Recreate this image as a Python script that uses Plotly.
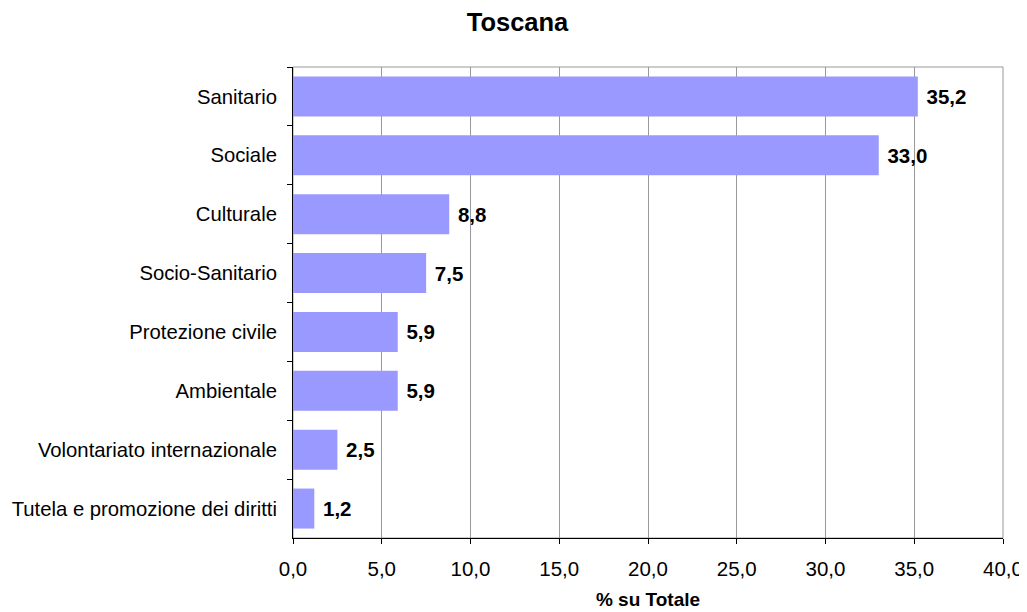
import plotly.graph_objects as go

categorie = [
    "Sanitario", "Sociale", "Culturale", "Socio-Sanitario",
    "Protezione civile", "Ambientale", "Volontariato internazionale",
    "Tutela e promozione dei diritti",
]
valori = [35.2, 33.0, 8.8, 7.5, 5.9, 5.9, 2.5, 1.2]
etichette = ["\u00a0" + f"{v:.1f}".replace(".", ",") for v in valori]
x_ticks = [0, 5, 10, 15, 20, 25, 30, 35, 40]

font = "Liberation Sans, Arial, sans-serif"

fig = go.Figure(go.Bar(
    x=valori,
    y=categorie,
    orientation="h",
    marker=dict(color="#9999FF", line=dict(width=0)),
    text=etichette,
    textposition="outside",
    textfont=dict(family=font, size=20.5, color="black", weight="bold"),
    cliponaxis=False,
))

# la pagina ha un margine di 8px: la figura parte da (8, 8)
fig.update_layout(
    width=1019, height=604,
    margin=dict(l=285, r=24, t=59, b=74),
    paper_bgcolor="white", plot_bgcolor="white",
    separators=",.",
    bargap=0.32,
    showlegend=False,
    title=dict(
        text="<b>Toscana</b>", x=0.5, xanchor="center",
        y=1 - 14 / 604, yanchor="middle",
        font=dict(family=font, size=25.5, color="black"),
    ),
    font=dict(family=font, size=20.5, color="black"),
    shapes=[dict(
        type="rect", xref="paper", yref="paper", x0=0, x1=1, y0=0, y1=1,
        line=dict(color="#999999", width=1), layer="below",
    )],
)

fig.update_xaxes(
    range=[0, 40], tickvals=x_ticks, tickformat=".1f",
    showgrid=True, gridcolor="#999999", gridwidth=1,
    showline=True, linecolor="black", linewidth=1,
    ticks="outside", ticklen=5, tickcolor="black",
    ticklabelstandoff=7, automargin=False,
    zeroline=False,
    title=dict(text="<b>% su Totale</b>", font=dict(size=19), standoff=14),
    tickfont=dict(size=20.5),
)
fig.update_yaxes(
    autorange="reversed",
    showline=True, linecolor="black", linewidth=1,
    ticks="outside", ticklen=5, tickcolor="black",
    ticklabelstandoff=11, automargin=False,
    tickson="boundaries", showgrid=False,
    tickfont=dict(size=20.3),
)

fig.write_html("out.html")
